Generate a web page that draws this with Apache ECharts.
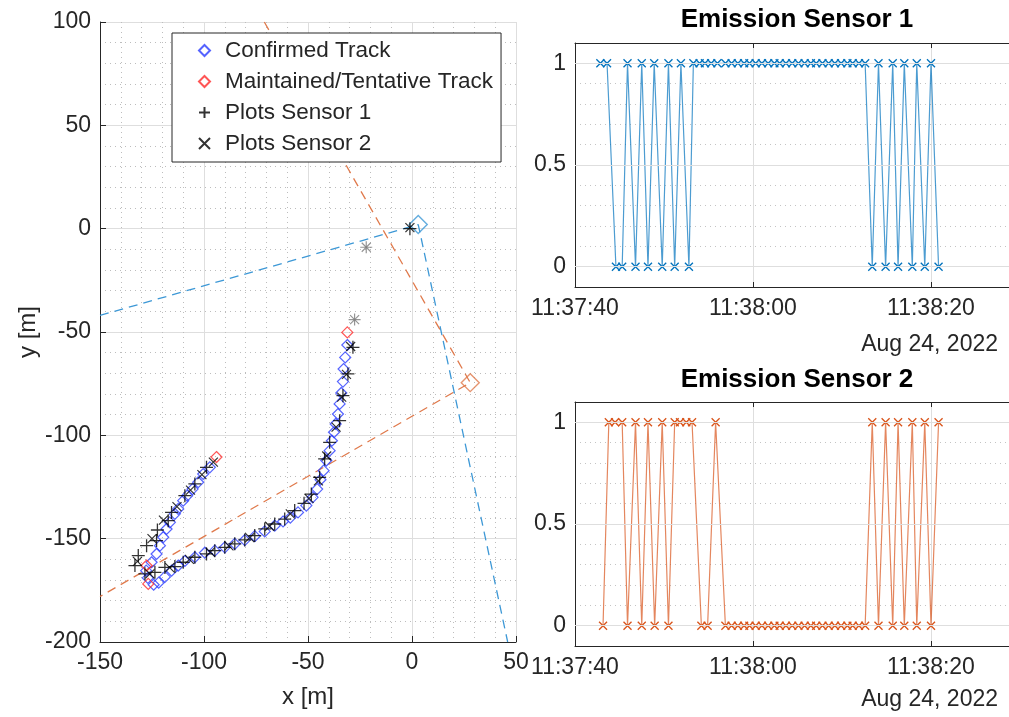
<!DOCTYPE html>
<html>
<head>
<meta charset="utf-8">
<script src="https://cdn.jsdelivr.net/npm/echarts@6/dist/echarts.min.js"></script>
<style>
  html, body { margin: 0; padding: 0; background: #fff; }
  #chart { width: 1009px; height: 717px; }
</style>
</head>
<body>
<div id="chart"></div>
<script>
// ---- data: left plot (x, y in metres) ----
const confirmedTrack = [
  [-31.1, -56.3], [-32.1, -62.3], [-32.9, -67.9], [-33.2, -74.0], [-34.0, -79.5],
  [-34.8, -84.8], [-35.6, -89.7], [-36.7, -94.5], [-37.5, -98.5], [-38.5, -102.6],
  [-39.6, -107.4], [-41.2, -112.2], [-42.5, -117.1], [-44.0, -121.5], [-45.6, -126.0],
  [-47.8, -130.0], [-50.8, -134.0], [-54.8, -137.3], [-58.5, -139.8], [-62.0, -141.7],
  [-66.0, -143.7], [-70.8, -146.5], [-75.6, -148.8], [-80.4, -150.7], [-85.2, -152.5],
  [-90.0, -154.2], [-94.8, -155.8], [-99.6, -156.8], [-104.4, -159.0], [-109.2, -160.8],
  [-112.4, -163.0], [-115.6, -165.5], [-118.8, -168.5], [-121.8, -171.3], [-124.2, -172.3],
  [-127.0, -169.0], [-127.8, -165.5], [-125.2, -161.4], [-122.8, -157.4], [-121.2, -153.4],
  [-119.6, -149.3], [-118.0, -145.3], [-116.4, -142.1], [-114.0, -138.0], [-112.4, -135.6],
  [-110.0, -131.6], [-108.1, -129.2], [-105.5, -126.0], [-102.8, -122.7], [-100.4, -118.7],
  [-97.2, -115.5]
];
const tentativeTrack = [[-31.1, -50.2], [-94.0, -110.5], [-126.8, -171.9], [-127.6, -163.0]];
const plotsSensor1 = [
  [-28.4, -57.4], [-30.8, -70.3], [-33.2, -80.8], [-34.8, -92.9], [-39.6, -103.4],
  [-42.0, -111.4], [-44.4, -120.3], [-48.4, -128.4], [-51.9, -132.9], [-56.4, -136.4],
  [-61.2, -140.5], [-66.0, -142.9], [-70.8, -145.3], [-75.6, -148.5], [-80.4, -150.6],
  [-85.2, -152.5], [-90.0, -154.2], [-94.8, -155.8], [-98.8, -157.4], [-104.4, -159.0],
  [-110.0, -161.4], [-114.0, -163.5], [-118.8, -163.9], [-123.6, -166.3], [-128.4, -167.0],
  [-133.2, -163.0], [-131.6, -158.2], [-127.6, -153.4], [-122.8, -150.9], [-122.4, -145.8],
  [-117.2, -141.3], [-115.6, -137.3], [-109.2, -129.2], [-104.4, -123.5], [-98.8, -115.5],
  [-1.0, 0.0]
];
const plotsSensor2 = [
  [-29.5, -57.0], [-31.5, -70.5], [-33.8, -81.5], [-36.5, -96.0], [-41.0, -110.0],
  [-45.0, -122.0], [-49.5, -130.5], [-58.5, -138.0], [-68.5, -144.0], [-78.0, -149.5],
  [-88.0, -153.5], [-97.0, -156.5], [-107.0, -160.0], [-116.5, -164.0], [-126.0, -167.0],
  [-132.0, -161.0], [-125.0, -150.0], [-119.5, -141.0], [-113.0, -134.5], [-106.5, -126.5],
  [-101.0, -119.0], [-95.5, -113.0], [-1.0, 0.5]
];
const oldPlots = [[-27.6, -44.0], [-22.0, -9.0]];
const sensor1Pos = [3, 2];
const sensor2Pos = [28, -74.5];
const sensor1Fov = [[-150, -42], [3, 2], [46, -200]];
const sensor2Fov = [[-71, 100], [28, -74.5], [-150, -178]];

// ---- data: emission plots (seconds after 11:37:40) ----
const emis1Time = [
  2.85, 3.6, 4.6, 5.3, 5.9, 6.8, 7.5, 8.2, 8.9, 9.8, 10.5, 11.2, 11.9, 12.8, 13.3,
  14.0, 14.6, 15.3, 16.0, 16.9, 17.6, 18.3, 19.0, 19.6, 20.3, 21.0, 21.7, 22.4, 23.0,
  23.7, 24.4, 25.1, 25.8, 26.5, 27.1, 27.8, 28.5, 29.2, 29.9, 30.6, 31.2, 31.9, 32.6,
  33.4, 34.1, 34.9, 35.7, 36.3, 37.0, 37.9, 38.4, 39.3, 40.0, 40.85
];
const emis1Value = [
  1, 1, 0, 0, 1, 0, 1, 0, 1, 0, 1, 0, 1, 0, 1,
  1, 1, 1, 1, 1, 1, 1, 1, 1, 1, 1, 1, 1, 1,
  1, 1, 1, 1, 1, 1, 1, 1, 1, 1, 1, 1, 1, 1,
  0, 1, 0, 1, 0, 1, 0, 1, 0, 1, 0
];
const emis2Time = [
  3.15, 3.8, 4.5, 5.3, 5.9, 6.8, 7.5, 8.2, 8.95, 9.8, 10.5, 11.2, 11.8, 12.5, 13.15,
  14.2, 14.9, 15.8, 16.9, 17.6, 18.3, 19.0, 19.6, 20.3, 21.0, 21.7, 22.4, 23.0,
  23.7, 24.4, 25.1, 25.8, 26.5, 27.1, 27.8, 28.5, 29.2, 29.9, 30.6, 31.2, 31.9, 32.6,
  33.4, 34.1, 34.9, 35.7, 36.3, 37.0, 37.9, 38.4, 39.3, 40.0, 40.85
];
const emis2Value = [
  0, 1, 1, 1, 0, 1, 0, 1, 0, 1, 0, 1, 1, 1, 1,
  0, 0, 1, 0, 0, 0, 0, 0, 0, 0, 0, 0, 0, 0,
  0, 0, 0, 0, 0, 0, 0, 0, 0, 0, 0, 0, 0,
  1, 0, 1, 0, 1, 0, 1, 0, 1, 0, 1
];
const timeTicks = [0, 20, 40];
const dateLabel = "Aug 24, 2022";

const FONT = "'Liberation Sans', Arial, sans-serif";
const INK = "#262626";
const BLUE = "#0072BD";
const ORANGE = "#D95319";
const PLUS = "path://M5,0L5,10M0,5L10,5";
const CROSS = "path://M0,0L10,10M10,0L0,10";
const BASE_SEC = 11 * 3600 + 37 * 60 + 40;

const pad = (n) => String(n).padStart(2, "0");
const clock = (t) => {
  const s = Math.round(BASE_SEC + t);
  return Math.floor(s / 3600) + ":" + pad(Math.floor(s / 60) % 60) + ":" + pad(s % 60);
};
const zip = (xs, ys) => xs.map((x, i) => [x, ys[i]]);

const chart = echarts.init(document.getElementById("chart"));

const metreAxis = (min, max, name, gap) => ({
  type: "value", gridIndex: 0, min, max, interval: 50,
  name, nameLocation: "middle", nameGap: gap,
  nameTextStyle: { fontSize: 24, color: INK, fontFamily: FONT },
  axisLine: { show: true, onZero: false, lineStyle: { color: INK, width: 1 } },
  axisTick: { show: true, inside: true, length: 6, lineStyle: { color: INK } },
  axisLabel: { fontSize: 23, color: INK, fontFamily: FONT, margin: 9 },
  splitLine: { show: true, lineStyle: { color: "#dedede", width: 1 } },
  minorTick: { show: false, splitNumber: 5 },
  minorSplitLine: { show: true, lineStyle: { color: "#bdbdbd", type: [1, 4], width: 1 } },
});

const timeAxis = (g) => ({
  type: "value", gridIndex: g, min: 0, max: 50, interval: 20,
  axisLine: { show: true, onZero: false, lineStyle: { color: INK } },
  axisTick: { show: true, inside: true, length: 5, lineStyle: { color: INK } },
  axisLabel: {
    fontSize: 23, color: INK, fontFamily: FONT, margin: 10, showMaxLabel: false,
    formatter: (v) => (timeTicks.indexOf(Math.round(v)) >= 0 ? clock(v) : ""),
  },
  splitLine: { show: true, lineStyle: { color: "#dedede" } },
});

// top edge of the box for the emission plots
const boxTop = (g) => ({
  type: "value", gridIndex: g, position: "top", min: 0, max: 50, interval: 20,
  axisLine: { show: true, onZero: false, lineStyle: { color: INK } },
  axisTick: { show: true, inside: true, length: 5, lineStyle: { color: INK } },
  axisLabel: { show: false },
  splitLine: { show: false },
});

const levelAxis = (g) => ({
  type: "value", gridIndex: g, min: -0.1, max: 1.1, interval: 0.1,
  axisLine: { show: true, onZero: false, lineStyle: { color: INK } },
  axisTick: { show: false },
  axisLabel: {
    fontSize: 23, color: INK, fontFamily: FONT, margin: 9,
    formatter: (v) => {
      if (Math.abs(v) < 1e-6) return "0";
      if (Math.abs(v - 0.5) < 1e-6) return "0.5";
      if (Math.abs(v - 1) < 1e-6) return "1";
      return "";
    },
  },
  splitLine: { show: true, lineStyle: { color: "#c4c4c4", type: [1, 4] } },
});

const majorLevels = (g) => ({
  type: "line", xAxisIndex: g, yAxisIndex: g, data: [], silent: true, z: 1,
  markLine: {
    silent: true, symbol: "none", label: { show: false },
    lineStyle: { color: "#dedede", type: "solid", width: 1 },
    data: [{ yAxis: 0 }, { yAxis: 0.5 }, { yAxis: 1 }],
  },
});

const emissionSeries = (g, data, color) => ({
  type: "line", xAxisIndex: g, yAxisIndex: g, data, z: 3,
  symbol: CROSS, symbolSize: 8,
  itemStyle: { color: "transparent", borderColor: color, borderWidth: 1.3 },
  lineStyle: { color, width: 1.2, opacity: 0.7 },
});

const titleText = (text, y) => ({
  type: "text",
  style: { text, x: 797, y, align: "center", verticalAlign: "middle", font: "bold 26px " + FONT, fill: "#000" },
});
const dateText = (y) => ({
  type: "text",
  style: { text: dateLabel, x: 998, y, align: "right", verticalAlign: "middle", font: "23px " + FONT, fill: INK },
});

const option = {
  animation: false,
  backgroundColor: "#fff",
  textStyle: { fontFamily: FONT },
  grid: [
    { left: 100, top: 22, width: 416, height: 620, outerBoundsMode: "none" },
    { left: 575, top: 43, width: 445, height: 244, outerBoundsMode: "none" },
    { left: 575, top: 402, width: 445, height: 244, outerBoundsMode: "none" },
  ],
  xAxis: [metreAxis(-150, 50, "x [m]", 43), timeAxis(1), timeAxis(2), boxTop(1), boxTop(2)],
  yAxis: [metreAxis(-200, 100, "y [m]", 60), levelAxis(1), levelAxis(2)],
  legend: {
    left: 172, top: 33, orient: "vertical",
    itemGap: 8, itemWidth: 11, itemHeight: 11,
    padding: [6, 8, 7, 26],
    backgroundColor: "#fff", borderColor: INK, borderWidth: 1,
    textStyle: { fontSize: 22.5, color: INK, fontFamily: FONT, padding: [0, 0, 0, 10] },
    data: ["Confirmed Track", "Maintained/Tentative Track", "Plots Sensor 1", "Plots Sensor 2"],
  },
  graphic: [titleText("Emission Sensor 1", 20), titleText("Emission Sensor 2", 380), dateText(345), dateText(700)],
  series: [
    {
      name: "fov1", type: "line", xAxisIndex: 0, yAxisIndex: 0, data: sensor1Fov,
      symbol: "none", silent: true, z: 2,
      lineStyle: { color: "#3d98d6", width: 1.3, type: [9, 6] },
    },
    {
      name: "fov2", type: "line", xAxisIndex: 0, yAxisIndex: 0, data: sensor2Fov,
      symbol: "none", silent: true, z: 2,
      lineStyle: { color: "#e07a4c", width: 1.3, type: [9, 6] },
    },
    {
      name: "sensor1", type: "scatter", xAxisIndex: 0, yAxisIndex: 0, data: [sensor1Pos],
      symbol: "diamond", symbolSize: 18, z: 3,
      itemStyle: { color: "transparent", borderColor: "#3d98d6", borderWidth: 1.4 },
    },
    {
      name: "sensor2", type: "scatter", xAxisIndex: 0, yAxisIndex: 0, data: [sensor2Pos],
      symbol: "diamond", symbolSize: 18, z: 3,
      itemStyle: { color: "transparent", borderColor: "#e07a4c", borderWidth: 1.4 },
    },
    {
      name: "Confirmed Track", type: "scatter", xAxisIndex: 0, yAxisIndex: 0, data: confirmedTrack,
      symbol: "diamond", symbolSize: 11, z: 4,
      itemStyle: { color: "transparent", borderColor: "#2b3cff", borderWidth: 1.2 },
    },
    {
      name: "Maintained/Tentative Track", type: "scatter", xAxisIndex: 0, yAxisIndex: 0, data: tentativeTrack,
      symbol: "diamond", symbolSize: 11, z: 4,
      itemStyle: { color: "transparent", borderColor: "#ff2a2a", borderWidth: 1.2 },
    },
    {
      name: "Plots Sensor 1", type: "scatter", xAxisIndex: 0, yAxisIndex: 0, data: plotsSensor1,
      symbol: PLUS, symbolSize: 13, z: 5,
      itemStyle: { color: "transparent", borderColor: "#000", borderWidth: 1.3 },
    },
    {
      name: "Plots Sensor 2", type: "scatter", xAxisIndex: 0, yAxisIndex: 0, data: plotsSensor2,
      symbol: CROSS, symbolSize: 9, z: 5,
      itemStyle: { color: "transparent", borderColor: "#000", borderWidth: 1.2 },
    },
    {
      name: "old plus", type: "scatter", xAxisIndex: 0, yAxisIndex: 0, data: oldPlots,
      symbol: PLUS, symbolSize: 12, z: 5,
      itemStyle: { color: "transparent", borderColor: "#7a7a7a", borderWidth: 1.2 },
    },
    {
      name: "old cross", type: "scatter", xAxisIndex: 0, yAxisIndex: 0, data: oldPlots,
      symbol: CROSS, symbolSize: 9, z: 5,
      itemStyle: { color: "transparent", borderColor: "#7a7a7a", borderWidth: 1.2 },
    },
    majorLevels(1),
    majorLevels(2),
    emissionSeries(1, zip(emis1Time, emis1Value), BLUE),
    emissionSeries(2, zip(emis2Time, emis2Value), ORANGE),
  ],
};

chart.setOption(option);
</script>
</body>
</html>
